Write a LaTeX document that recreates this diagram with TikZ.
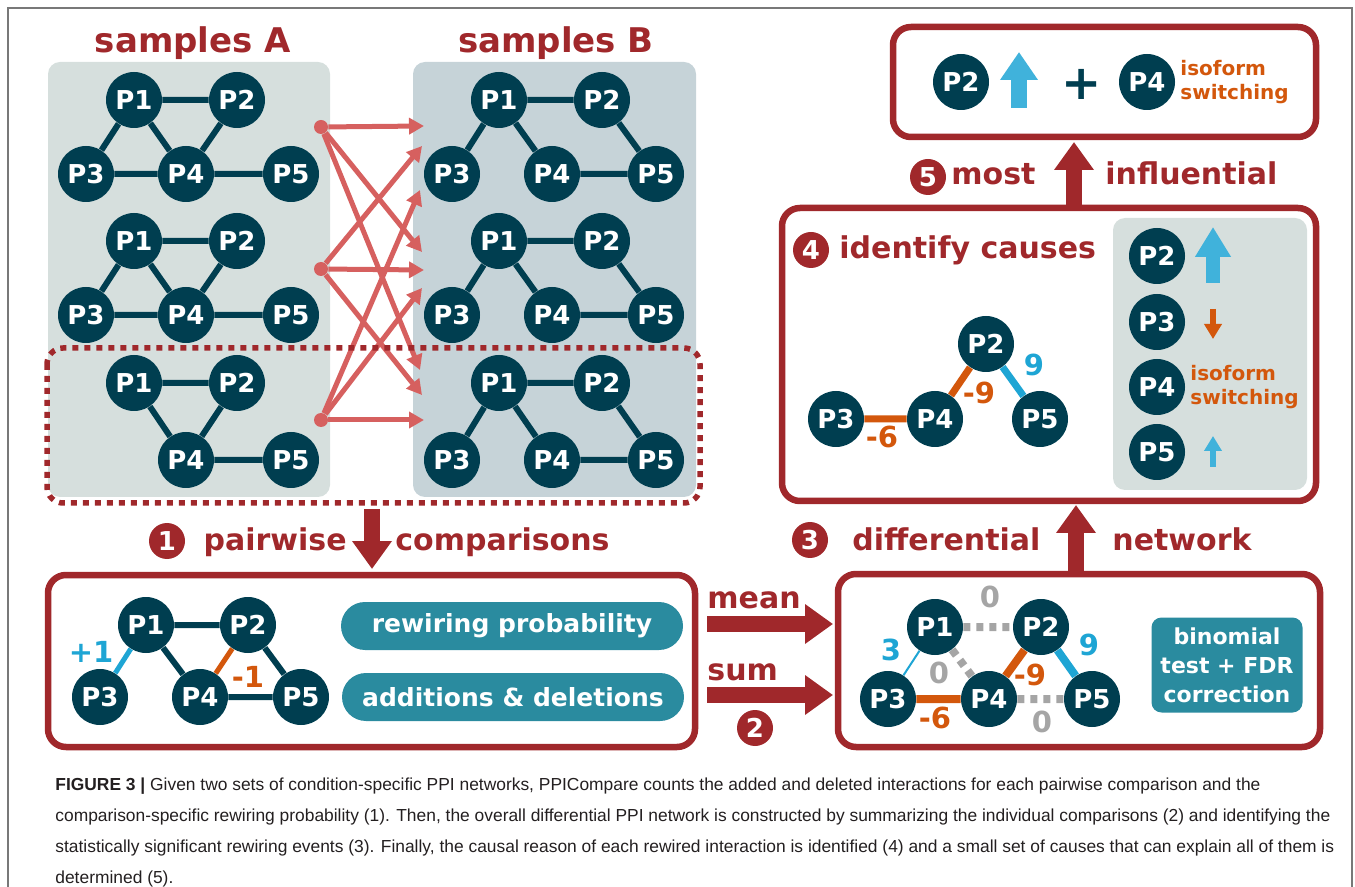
\documentclass[tikz,border=0pt]{standalone}
\usepackage{fontspec}
\setmainfont{DejaVu Sans}
\newfontfamily\captionfont{Liberation Sans}
\usetikzlibrary{shapes,positioning,arrows.meta}

\definecolor{stepred}{RGB}{160,40,43}
\definecolor{protein}{RGB}{0,62,80}
\definecolor{panelA}{RGB}{214,223,221}
\definecolor{panelB}{RGB}{198,211,216}
\definecolor{pairred}{RGB}{214,96,95}
\definecolor{methodteal}{RGB}{42,139,159}
\definecolor{gainblue}{RGB}{30,165,212}
\definecolor{lossorange}{RGB}{211,87,12}
\definecolor{zerogrey}{RGB}{165,165,165}
\definecolor{framegrey}{RGB}{120,120,120}
\definecolor{captionblack}{RGB}{35,31,32}

\begin{document}
\begin{tikzpicture}[
    x=0.5pt, y=-0.5pt,
    protNode/.style={circle, fill=protein, text=white, inner sep=0pt, minimum size=28pt, font=\fontsize{13pt}{13pt}\selectfont\bfseries},
    stepNode/.style={circle, fill=stepred, text=white, inner sep=0pt, minimum size=18pt, font=\fontsize{13pt}{13pt}\selectfont\bfseries},
    stepText/.style={text=stepred, inner sep=0pt, anchor=base west, font=\fontsize{15pt}{15pt}\selectfont\bfseries},
    titleText/.style={text=stepred, inner sep=0pt, anchor=base, font=\fontsize{17pt}{17pt}\selectfont\bfseries},
    weightText/.style={inner sep=0pt, font=\fontsize{14.5pt}{14.5pt}\selectfont\bfseries},
    causeText/.style={text=lossorange, inner sep=0pt, anchor=west, align=left, font=\fontsize{10pt}{12pt}\selectfont\bfseries},
    methodBox/.style={fill=methodteal, text=white, rounded corners=12pt, minimum width=171pt, minimum height=24pt, font=\fontsize{12.5pt}{12.5pt}\selectfont\bfseries},
    sampleBox/.style={rounded corners=6pt},
    stepBox/.style={draw=stepred, line width=3.25pt, rounded corners=9pt},
    ppiEdge/.style={draw=protein, line width=3pt},
    pairArrow/.style={draw=pairred, line width=2.5pt, -{Triangle[width=8pt,length=7.5pt]}},
    bigArrow/.style={draw=stepred, line width=8pt, -{Triangle[width=19pt,length=14pt]}},
    srcDot/.style={circle, fill=pairred, inner sep=0pt, minimum size=7pt}
  ]
  \useasboundingbox (0,0) rectangle (1355,887);

  % Frame
  \draw[framegrey, line width=0.75pt] (8,887) -- (8,8) -- (1352,8) -- (1352,887);

  % Samples
  \fill[panelA, sampleBox] (48,62) rectangle (330,497);
  \fill[panelB, sampleBox] (413,62) rectangle (696,497);
  \node[titleText] (titleA) at (193,53) {samples A};
  \node[titleText] (titleB) at (556,53) {samples B};

  % Samples A, first network
  \node[protNode] (a1p1) at (134,100) {P1};
  \node[protNode] (a1p2) at (237,100) {P2};
  \node[protNode] (a1p3) at (86,174) {P3};
  \node[protNode] (a1p4) at (186,174) {P4};
  \node[protNode] (a1p5) at (291,174) {P5};
  \draw[ppiEdge] (a1p1) -- (a1p2) (a1p1) -- (a1p3) (a1p1) -- (a1p4) (a1p2) -- (a1p4) (a1p3) -- (a1p4) (a1p4) -- (a1p5);

  % Samples A, second network
  \node[protNode] (a2p1) at (134,241) {P1};
  \node[protNode] (a2p2) at (237,241) {P2};
  \node[protNode] (a2p3) at (86,315) {P3};
  \node[protNode] (a2p4) at (186,315) {P4};
  \node[protNode] (a2p5) at (291,315) {P5};
  \draw[ppiEdge] (a2p1) -- (a2p2) (a2p1) -- (a2p3) (a2p1) -- (a2p4) (a2p2) -- (a2p4) (a2p3) -- (a2p4) (a2p4) -- (a2p5);

  % Samples A, third network
  \node[protNode] (a3p1) at (134,383) {P1};
  \node[protNode] (a3p2) at (237,383) {P2};
  \node[protNode] (a3p4) at (186,460) {P4};
  \node[protNode] (a3p5) at (291,460) {P5};
  \draw[ppiEdge] (a3p1) -- (a3p2) (a3p1) -- (a3p4) (a3p2) -- (a3p4) (a3p4) -- (a3p5);

  % Samples B, first network
  \node[protNode] (b1p1) at (499,100) {P1};
  \node[protNode] (b1p2) at (602,100) {P2};
  \node[protNode] (b1p3) at (452,174) {P3};
  \node[protNode] (b1p4) at (552,174) {P4};
  \node[protNode] (b1p5) at (656,174) {P5};
  \draw[ppiEdge] (b1p1) -- (b1p2) (b1p1) -- (b1p3) (b1p1) -- (b1p4) (b1p2) -- (b1p5) (b1p4) -- (b1p5);

  % Samples B, second network
  \node[protNode] (b2p1) at (499,241) {P1};
  \node[protNode] (b2p2) at (602,241) {P2};
  \node[protNode] (b2p3) at (452,315) {P3};
  \node[protNode] (b2p4) at (552,315) {P4};
  \node[protNode] (b2p5) at (656,315) {P5};
  \draw[ppiEdge] (b2p1) -- (b2p2) (b2p1) -- (b2p3) (b2p1) -- (b2p4) (b2p2) -- (b2p5) (b2p4) -- (b2p5);

  % Samples B, third network
  \node[protNode] (b3p1) at (499,383) {P1};
  \node[protNode] (b3p2) at (602,383) {P2};
  \node[protNode] (b3p3) at (452,460) {P3};
  \node[protNode] (b3p4) at (552,460) {P4};
  \node[protNode] (b3p5) at (656,460) {P5};
  \draw[ppiEdge] (b3p1) -- (b3p2) (b3p1) -- (b3p3) (b3p1) -- (b3p4) (b3p2) -- (b3p5) (b3p4) -- (b3p5);

  % Pairwise arrows
  \node[srcDot] (src1) at (321,127) {};
  \node[srcDot] (src2) at (321,269) {};
  \node[srcDot] (src3) at (321,420) {};
  \coordinate (in11) at (424,126);
  \coordinate (in12) at (422,146);
  \coordinate (in13) at (420,190);
  \coordinate (in21) at (422,252);
  \coordinate (in22) at (424,270);
  \coordinate (in23) at (422,288);
  \coordinate (in31) at (420,370);
  \coordinate (in32) at (422,395);
  \coordinate (in33) at (424,420);
  \draw[pairArrow] (src1) -- (in11);
  \draw[pairArrow] (src1) -- (in21);
  \draw[pairArrow] (src1) -- (in31);
  \draw[pairArrow] (src2) -- (in12);
  \draw[pairArrow] (src2) -- (in22);
  \draw[pairArrow] (src2) -- (in32);
  \draw[pairArrow] (src3) -- (in13);
  \draw[pairArrow] (src3) -- (in23);
  \draw[pairArrow] (src3) -- (in33);

  \draw[stepred, line width=2.75pt, dash pattern=on 3pt off 3pt, rounded corners=8pt] (47,348) rectangle (700,503);

  % Step 1
  \node[stepNode] (step1) at (167,541) {1};
  \node[stepText, anchor=base east] (pairwise) at (347,551) {pairwise};
  \node[stepText] (comparisons) at (395,551) {comparisons};
  \coordinate (down1) at (372,509);
  \coordinate (down2) at (372,569);
  \draw[bigArrow] (down1) -- (down2);

  \draw[stepBox] (48,575) rectangle (695,747);
  \node[protNode] (c1) at (146,625) {P1};
  \node[protNode] (c2) at (248,625) {P2};
  \node[protNode] (c3) at (100,697) {P3};
  \node[protNode] (c4) at (200,697) {P4};
  \node[protNode] (c5) at (301,697) {P5};
  \draw[ppiEdge] (c1) -- (c2) (c1) -- (c4) (c2) -- (c5) (c4) -- (c5);
  \draw[gainblue, line width=2.5pt] (c1) -- (c3);
  \draw[lossorange, line width=2.5pt] (c2) -- (c4);
  \node[weightText, text=gainblue] (w13) at (91,652) {+1};
  \node[weightText, text=lossorange] (w24) at (248,677) {-1};
  \node[methodBox] (rewiring) at (512,626) {rewiring probability};
  \node[methodBox] (additions) at (513,697) {additions \& deletions};

  % Step 2
  \node[stepText] (mean) at (707,608) {mean};
  \node[stepText] (sum) at (707,680) {sum};
  \coordinate (mean1) at (707,624);
  \coordinate (mean2) at (833,624);
  \coordinate (sum1) at (707,695);
  \coordinate (sum2) at (833,695);
  \draw[bigArrow] (mean1) -- (mean2);
  \draw[bigArrow] (sum1) -- (sum2);
  \node[stepNode] (step2) at (755,728) {2};

  \draw[stepBox] (838,574) rectangle (1320,747);
  \node[protNode] (d1) at (935,627) {P1};
  \node[protNode] (d2) at (1041,627) {P2};
  \node[protNode] (d3) at (888,699) {P3};
  \node[protNode] (d4) at (989,699) {P4};
  \node[protNode] (d5) at (1092,699) {P5};
  \draw[zerogrey, line width=4pt, dash pattern=on 3.5pt off 3pt] (d1) -- (d2) (d1) -- (d4) (d4) -- (d5);
  \draw[gainblue, line width=1pt] (d1) -- (d3);
  \draw[gainblue, line width=4pt] (d2) -- (d5);
  \draw[lossorange, line width=4pt] (d2) -- (d4) (d3) -- (d4);
  \node[weightText, text=zerogrey] (wd12) at (990,597) {0};
  \node[weightText, text=gainblue] (wd13) at (891,650) {3};
  \node[weightText, text=zerogrey] (wd14) at (939,673) {0};
  \node[weightText, text=lossorange] (wd24) at (1030,675) {-9};
  \node[weightText, text=gainblue] (wd25) at (1089,645) {9};
  \node[weightText, text=lossorange] (wd34) at (935,718) {-6};
  \node[weightText, text=zerogrey] (wd45) at (1042,722) {0};
  \node[fill=methodteal, text=white, rounded corners=5pt, minimum width=75.5pt, minimum height=47.5pt, align=center,
        font=\fontsize{11pt}{14.5pt}\selectfont\bfseries] (binomial) at (1227,665) {binomial\\test + FDR\\correction};

  % Step 3
  \node[stepNode] (step3) at (810,540) {3};
  \node[stepText] (differential) at (852,551) {differential};
  \node[stepText] (network) at (1112,551) {network};
  \coordinate (up31) at (1076,573);
  \coordinate (up32) at (1076,505);
  \draw[bigArrow] (up31) -- (up32);

  % Step 4
  \draw[stepBox] (782,208) rectangle (1316,501);
  \fill[panelA, sampleBox] (1113,218) rectangle (1307,490);
  \node[stepNode] (step4) at (811,250) {4};
  \node[stepText] (identify) at (839,259) {identify causes};
  \node[protNode] (e2) at (986,344) {P2};
  \node[protNode] (e3) at (836,419) {P3};
  \node[protNode] (e4) at (935,419) {P4};
  \node[protNode] (e5) at (1040,419) {P5};
  \draw[lossorange, line width=3.5pt] (e3) -- (e4) (e2) -- (e4);
  \draw[gainblue, line width=3.5pt] (e2) -- (e5);
  \node[weightText, text=lossorange] (we34) at (882,437) {-6};
  \node[weightText, text=lossorange] (we24) at (979,393) {-9};
  \node[weightText, text=gainblue] (we25) at (1034,365) {9};

  \node[protNode] (f2) at (1157,256) {P2};
  \node[protNode] (f3) at (1157,322) {P3};
  \node[protNode] (f4) at (1157,387) {P4};
  \node[protNode] (f5) at (1157,452) {P5};
  \coordinate (f2a) at (1213,283);
  \coordinate (f2b) at (1213,227);
  \coordinate (f3a) at (1213,309);
  \coordinate (f3b) at (1213,339);
  \coordinate (f5a) at (1213,467);
  \coordinate (f5b) at (1213,436);
  \draw[gainblue!85!white, line width=7pt, -{Triangle[width=17pt,length=15pt]}] (f2a) -- (f2b);
  \draw[lossorange, line width=3pt, -{Triangle[width=8.5pt,length=7.5pt]}] (f3a) -- (f3b);
  \draw[gainblue!85!white, line width=3pt, -{Triangle[width=8.5pt,length=7.5pt]}] (f5a) -- (f5b);
  \node[causeText] (switch4) at (1190,387) {isoform\\switching};

  % Step 5
  \node[stepNode] (step5) at (928,177) {5};
  \node[stepText] (most) at (951,185) {most};
  \node[stepText] (influential) at (1105,185) {influential};
  \coordinate (up51) at (1074,208);
  \coordinate (up52) at (1074,142);
  \draw[bigArrow] (up51) -- (up52);

  \draw[stepBox] (893,27) rectangle (1316,137);
  \node[protNode] (g2) at (961,82) {P2};
  \node[protNode] (g4) at (1147,82) {P4};
  \coordinate (g2a) at (1019,108);
  \coordinate (g2b) at (1019,52);
  \draw[gainblue!85!white, line width=8pt, -{Triangle[width=18pt,length=14pt]}] (g2a) -- (g2b);
  \node[text=protein, inner sep=0pt, font=\fontsize{24pt}{24pt}\selectfont\bfseries] (plus) at (1082,84) {+};
  \node[causeText] (switchTop) at (1180,82) {isoform\\switching};

  % Caption
  \node[anchor=north west, inner sep=0pt, align=left, text=captionblack,
        font=\captionfont\fontsize{8.7pt}{15.5pt}\selectfont] (caption) at (55,777)
    {\textbf{FIGURE 3 |} Given two sets of condition-specific PPI networks, PPICompare counts the added and deleted interactions for each pairwise comparison and the\\
     comparison-specific rewiring probability (1). Then, the overall differential PPI network is constructed by summarizing the individual comparisons (2) and identifying the\\
     statistically significant rewiring events (3). Finally, the causal reason of each rewired interaction is identified (4) and a small set of causes that can explain all of them is\\
     determined (5).};
\end{tikzpicture}
\end{document}
